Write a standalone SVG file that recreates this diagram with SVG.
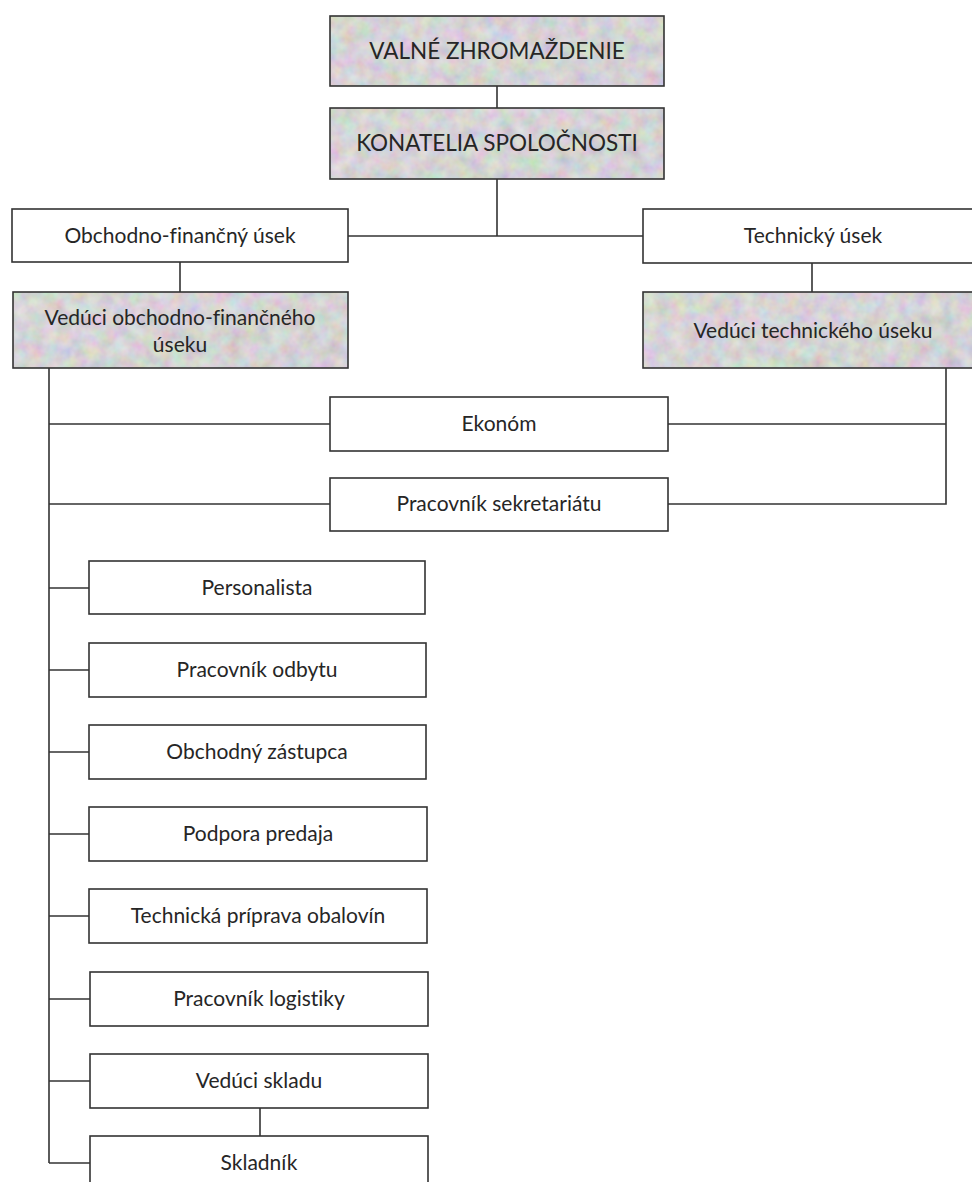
<svg xmlns="http://www.w3.org/2000/svg" width="972" height="1182" viewBox="0 0 972 1182">
<style>
.box{fill:#ffffff;stroke:#333333;stroke-width:1.6}
.frame{fill:none;stroke:#333333;stroke-width:1.6}
.tex{stroke:none}
.t{font-family:Lato,"Noto Sans","Liberation Sans",sans-serif;font-size:21px;fill:#262626;text-anchor:middle;font-variant-ligatures:none}
.cap{font-size:22.5px}
.conn line,.conn polyline{stroke:#333333;stroke-width:1.6;fill:none}
</style>
<defs>
<linearGradient id="pastel" x1="0" y1="0" x2="1" y2="1">
<stop offset="0" stop-color="#c5d0b8"/>
<stop offset="0.35" stop-color="#cfc2d2"/>
<stop offset="0.65" stop-color="#c4c9bf"/>
<stop offset="1" stop-color="#c9b9d3"/>
</linearGradient>
<filter id="noise" x="0" y="0" width="1" height="1">
<feTurbulence type="fractalNoise" baseFrequency="0.07" numOctaves="3" seed="7"/>
<feColorMatrix type="matrix" values="0.85 0 0 0 0.33  0 0.85 0 0 0.33  0 0 0.85 0 0.33  0 0 0 0 1"/>
</filter>
</defs>
<rect width="972" height="1182" fill="#ffffff"/>

<g id="connectors" class="conn">
<line x1="497" y1="86" x2="497" y2="108"/>
<line x1="497" y1="179" x2="497" y2="236"/>
<line x1="348" y1="236" x2="643" y2="236"/>
<line x1="180" y1="262" x2="180" y2="292"/>
<line x1="812" y1="263" x2="812" y2="292"/>
<line x1="49" y1="368" x2="49" y2="1163"/>
<polyline points="946,368 946,504 668,504"/>
<line x1="668" y1="424" x2="946" y2="424"/>
<line x1="49" y1="424" x2="330" y2="424"/>
<line x1="49" y1="504" x2="330" y2="504"/>
<line x1="49" y1="588" x2="89" y2="588"/>
<line x1="49" y1="670" x2="89" y2="670"/>
<line x1="49" y1="752" x2="89" y2="752"/>
<line x1="49" y1="834" x2="89" y2="834"/>
<line x1="49" y1="916" x2="89" y2="916"/>
<line x1="49" y1="999" x2="90" y2="999"/>
<line x1="49" y1="1081" x2="90" y2="1081"/>
<line x1="49" y1="1163" x2="90" y2="1163"/>
<line x1="260" y1="1108" x2="260" y2="1136"/>
</g>

<g id="valne-zhromazdenie">
<rect x="330" y="16" width="334" height="70" fill="url(#pastel)" class="tex"/>
<rect x="330" y="16" width="334" height="70" filter="url(#noise)" opacity="0.5" class="tex"/>
<rect x="330" y="16" width="334" height="70" class="frame"/>
<text x="497" y="59" class="t cap">VALNÉ ZHROMAŽDENIE</text>
</g>

<g id="konatelia">
<rect x="330" y="108" width="334" height="71" fill="url(#pastel)" class="tex"/>
<rect x="330" y="108" width="334" height="71" filter="url(#noise)" opacity="0.5" class="tex"/>
<rect x="330" y="108" width="334" height="71" class="frame"/>
<text x="497" y="151" class="t cap">KONATELIA SPOLOČNOSTI</text>
</g>

<g id="obchodno-financny-usek">
<rect x="12" y="209" width="336" height="53" class="box"/>
<text x="180" y="243" class="t">Obchodno-finančný úsek</text>
</g>

<g id="technicky-usek">
<rect x="643" y="209" width="340" height="54" class="box"/>
<text x="813" y="243" class="t">Technický úsek</text>
</g>

<g id="veduci-obchodno">
<rect x="13" y="292" width="335" height="76" fill="url(#pastel)" class="tex"/>
<rect x="13" y="292" width="335" height="76" filter="url(#noise)" opacity="0.5" class="tex"/>
<rect x="13" y="292" width="335" height="76" class="frame"/>
<text x="180" y="325" class="t">Vedúci obchodno-finančného</text>
<text x="180" y="352" class="t">úseku</text>
</g>

<g id="veduci-technickeho">
<rect x="643" y="292" width="340" height="76" fill="url(#pastel)" class="tex"/>
<rect x="643" y="292" width="340" height="76" filter="url(#noise)" opacity="0.5" class="tex"/>
<rect x="643" y="292" width="340" height="76" class="frame"/>
<text x="813" y="338" class="t">Vedúci technického úseku</text>
</g>

<g id="ekonom">
<rect x="330" y="397" width="338" height="54" class="box"/>
<text x="499" y="431" class="t">Ekonóm</text>
</g>

<g id="sekretariat">
<rect x="330" y="478" width="338" height="53" class="box"/>
<text x="499" y="511" class="t">Pracovník sekretariátu</text>
</g>

<g id="personalista">
<rect x="89" y="561" width="336" height="53" class="box"/>
<text x="257" y="595" class="t">Personalista</text>
</g>

<g id="odbyt">
<rect x="89" y="643" width="337" height="54" class="box"/>
<text x="257" y="677" class="t">Pracovník odbytu</text>
</g>

<g id="obchodny-zastupca">
<rect x="89" y="725" width="337" height="54" class="box"/>
<text x="257" y="759" class="t">Obchodný zástupca</text>
</g>

<g id="podpora-predaja">
<rect x="89" y="807" width="338" height="54" class="box"/>
<text x="258" y="841" class="t">Podpora predaja</text>
</g>

<g id="technicka-priprava">
<rect x="89" y="889" width="338" height="54" class="box"/>
<text x="258" y="923" class="t">Technická príprava obalovín</text>
</g>

<g id="logistika">
<rect x="90" y="972" width="338" height="54" class="box"/>
<text x="259" y="1006" class="t">Pracovník logistiky</text>
</g>

<g id="veduci-skladu">
<rect x="90" y="1054" width="338" height="54" class="box"/>
<text x="259" y="1088" class="t">Vedúci skladu</text>
</g>

<g id="skladnik">
<rect x="90" y="1136" width="338" height="54" class="box"/>
<text x="259" y="1170" class="t">Skladník</text>
</g>
</svg>
